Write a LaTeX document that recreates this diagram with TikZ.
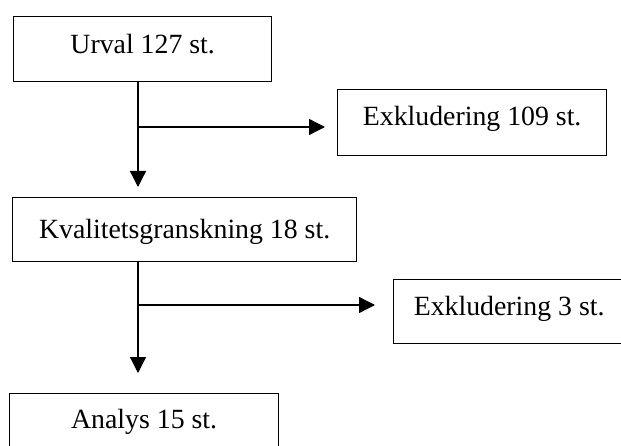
\documentclass[tikz,border=0pt]{standalone}
\usepackage{fontspec}
\setmainfont{Liberation Serif}
\usetikzlibrary{arrows.meta}
\begin{document}
\begin{tikzpicture}[x=1pt,y=-1pt,
  box/.style={draw, line width=1.3pt, anchor=north west, inner ysep=0pt, inner xsep=0pt,
    font=\fontsize{27.8}{33}\selectfont},
  arr/.style={line width=1.3pt, -{Triangle[length=16pt,width=16pt]}}]
\useasboundingbox (0,0) rectangle (621,446);
\node[box, minimum width=258pt, text height=37pt, text depth=28pt] (urval) at (13,16) {Urval 127 st.};
\node[box, minimum width=269pt, text height=36pt, text depth=30pt] (ex1) at (337,89) {Exkludering 109 st.};
\node[box, minimum width=344pt, text height=41pt, text depth=23pt] (kval) at (12,197) {Kvalitetsgranskning 18 st.};
\node[box, minimum width=231pt, text height=36pt, text depth=28pt] (ex2) at (393,279) {Exkludering 3 st.};
\node[box, minimum width=269pt, text height=35pt, text depth=30pt] (anal) at (9,393) {Analys 15 st.};
\coordinate (b1) at (138,127);
\coordinate (b2) at (138,305);
\draw[arr, shorten >=10pt] (urval.south -| b1) -- (kval.north -| b1);
\draw[arr, shorten >=12pt] (b1) -- (b1 -| ex1.west);
\draw[arr, shorten >=20pt] (kval.south -| b2) -- (anal.north -| b2);
\draw[arr, shorten >=18pt] (b2) -- (b2 -| ex2.west);
\end{tikzpicture}
\end{document}
